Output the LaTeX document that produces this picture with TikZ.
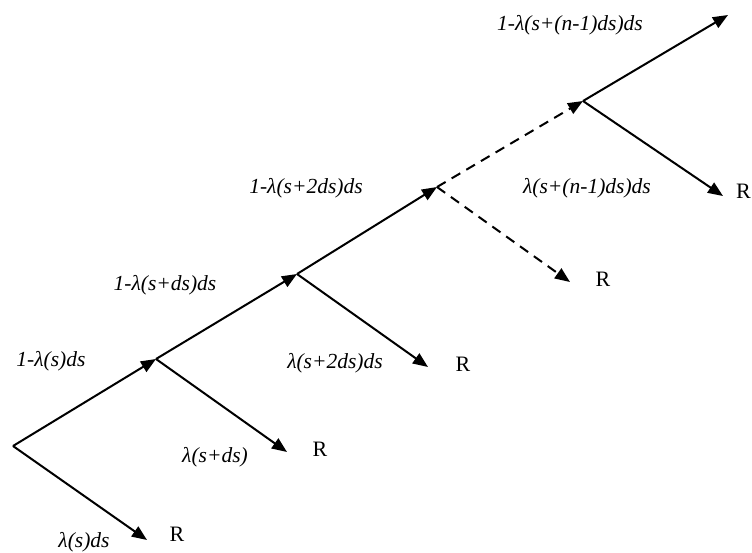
\documentclass[tikz,border=0pt]{standalone}
\usepackage{fontspec}
\setmainfont{Liberation Serif}
\usetikzlibrary{arrows.meta}
\begin{document}
\begin{tikzpicture}[x=1pt,y=-1pt,
  branch/.style={line width=2pt,-{Triangle[length=15pt,width=12pt]}},
  dashbranch/.style={branch,dash pattern=on 10pt off 7pt},
  prob/.style={inner sep=0pt,font=\fontsize{21.5}{25}\selectfont\itshape},
  rlab/.style={inner sep=0pt,font=\fontsize{22}{26}\selectfont}]
\useasboundingbox (0,0) rectangle (752,552);
\coordinate (O) at (13,446);
\coordinate (N1) at (156,359);
\coordinate (N2) at (297,274);
\coordinate (N3) at (437,187);
\coordinate (N4) at (583,101);
\coordinate (T) at (728,15);
\coordinate (D0) at (147,540);
\coordinate (D1) at (287,452);
\coordinate (D2) at (428,367);
\coordinate (D3) at (570,282);
\coordinate (D4) at (723,196);
\draw[branch] (O) -- (N1);
\draw[branch] (N1) -- (N2);
\draw[branch] (N2) -- (N3);
\draw[dashbranch] (N3) -- (N4);
\draw[branch] (N4) -- (T);
\draw[branch] (O) -- (D0);
\draw[branch] (N1) -- (D1);
\draw[branch] (N2) -- (D2);
\draw[dashbranch] (N3) -- (D3);
\draw[branch] (N4) -- (D4);
\node[prob] (p0) at (51,361) {1-λ(s)ds};
\node[prob] (q0) at (84,542) {λ(s)ds};
\node[rlab] (r0) at (177,534) {R};
\node[prob] (p1) at (165,285) {1-λ(s+ds)ds};
\node[prob] (q1) at (215,457) {λ(s+ds)};
\node[rlab] (r1) at (320,449) {R};
\node[prob] (p2) at (306,188) {1-λ(s+2ds)ds};
\node[prob] (q2) at (335,363) {λ(s+2ds)ds};
\node[rlab] (r2) at (463,364) {R};
\node[rlab] (r3) at (603,279) {R};
\node[prob] (q4) at (587,188) {λ(s+(n-1)ds)ds};
\node[prob] (p4) at (570,25) {1-λ(s+(n-1)ds)ds};
\node[rlab] (r4) at (743.5,191) {R};
\end{tikzpicture}
\end{document}
